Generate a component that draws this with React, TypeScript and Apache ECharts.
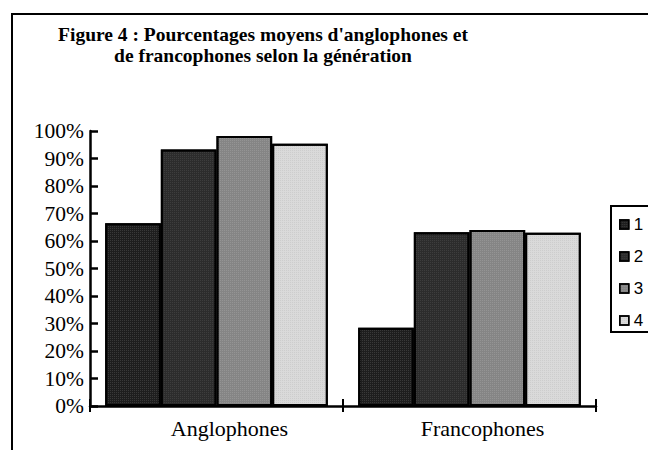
import React, { useEffect, useRef } from "react";
import * as echarts from "echarts";

const categories = ["Anglophones", "Francophones"];
const seriesNames = ["1", "2", "3", "4"];
const gen1 = [66.5, 28.5];
const gen2 = [93.3, 63.2];
const gen3 = [98.2, 64.0];
const gen4 = [95.4, 63.0];
const yTicks = [0, 10, 20, 30, 40, 50, 60, 70, 80, 90, 100];
const titleLines = ["Figure 4 : Pourcentages moyens d'anglophones et", "de francophones selon la génération"];

const colors = ["#1e1e1e", "#2c2c2c", "#858585", "#dadada"];
const dotColors = ["rgba(255,255,255,0.12)", "rgba(255,255,255,0.08)", "rgba(255,255,255,0.12)", "rgba(0,0,0,0.06)"];

export default function App() {
  const ref = useRef<HTMLDivElement>(null);
  useEffect(() => {
    if (!ref.current) return;
    const chart = echarts.init(ref.current, undefined, { renderer: "svg" });
    const values = [gen1, gen2, gen3, gen4];
    const serif = "'Liberation Serif', 'Times New Roman', serif";
    chart.setOption({
      animation: false,
      backgroundColor: "#ffffff",
      grid: { left: 90, top: 131, right: 52, bottom: 44, containLabel: false },
      legend: {
        orient: "vertical",
        left: 614,
        top: 211,
        itemWidth: 9,
        itemHeight: 9,
        itemGap: 15,
        icon: "rect",
        data: seriesNames,
        textStyle: { fontFamily: "'Liberation Sans', Arial, sans-serif", fontSize: 17, color: "#000", lineHeight: 16 },
        itemStyle: { borderColor: "#000", borderWidth: 1.5 },
      },
      xAxis: [
        {
          type: "category",
          data: categories,
          axisLine: { lineStyle: { color: "#000", width: 2.5 } },
          axisTick: { show: true, length: 6, lineStyle: { color: "#000", width: 2 } },
          axisLabel: {
            fontFamily: serif,
            fontSize: 22,
            color: "#000",
            margin: 11,
            padding: [0, 0, 0, 26],
          },
        },
        {
          type: "category",
          data: categories,
          position: "bottom",
          axisLine: { show: false },
          axisTick: { show: true, inside: true, length: 7, lineStyle: { color: "#000", width: 2 } },
          axisLabel: { show: false },
        },
      ],
      yAxis: [
        {
          type: "value",
          min: 0,
          max: 100,
          interval: 10,
          splitLine: { show: false },
          axisLine: { show: true, lineStyle: { color: "#000", width: 2.5 } },
          axisTick: { show: true, inside: true, length: 8, lineStyle: { color: "#000", width: 2.5 } },
          axisLabel: {
            fontFamily: serif,
            fontSize: 21.5,
            color: "#000",
            margin: 6,
            formatter: (v: number) => (yTicks.includes(v) ? v + "%" : ""),
          },
        },
      ],
      series: values.map((vals, i) => ({
        name: seriesNames[i],
        type: "bar",
        xAxisIndex: 0,
        data: vals,
        barGap: "0%",
        barCategoryGap: "12%",
        itemStyle: {
          color: colors[i],
          borderColor: "#000",
          borderWidth: 2,
          decal: {
            symbol: "rect",
            symbolSize: 1,
            dashArrayX: [1, 1],
            dashArrayY: [1, 1],
            color: dotColors[i],
          },
        },
      })),
      graphic: [
        {
          type: "rect",
          shape: { x: 12, y: 14, width: 800, height: 600 },
          style: { fill: "none", stroke: "#000", lineWidth: 2 },
          silent: true,
          z: 10,
        },
        {
          type: "rect",
          shape: { x: 611, y: 206, width: 100, height: 126 },
          style: { fill: "none", stroke: "#000", lineWidth: 2 },
          silent: true,
          z: 10,
        },
        {
          type: "text",
          x: 263,
          y: 24,
          style: {
            text: titleLines.join("\n"),
            font: "bold 19.5px 'Liberation Serif', 'Times New Roman', serif",
            textAlign: "center",
            textVerticalAlign: "top",
            lineHeight: 21,
            fill: "#000",
          },
          z: 10,
        },
      ],
    });
    return () => chart.dispose();
  }, []);
  return <div ref={ref} style={{ width: 648, height: 450, position: "absolute", left: 0, top: 0 }} />;
}
